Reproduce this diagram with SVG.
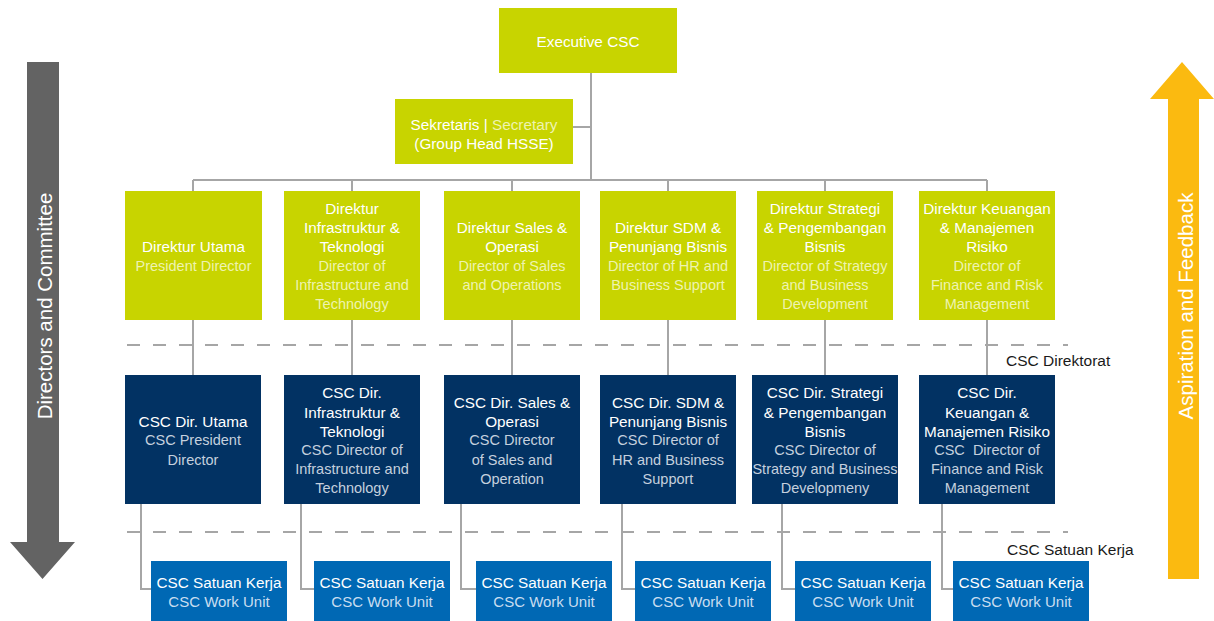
<svg xmlns="http://www.w3.org/2000/svg" width="1214" height="621" viewBox="0 0 1214 621">
<style>
text{font-family:"Liberation Sans",Arial,sans-serif;font-size:14.5px;text-anchor:middle;dominant-baseline:central}
.g{fill:#C8D400}.d{fill:#023263}.b{fill:#0068B4}
.w{fill:#ffffff;font-size:15.3px}.lg{fill:#EEF3B0}.ld{fill:#C5D0DE}.lb{fill:#C9DDF0;font-size:15px}
.ln{stroke:#A6A6A6;stroke-width:2;fill:none}
.ds{stroke:#A6A6A6;stroke-width:2;fill:none;stroke-dasharray:13 13}
.lab{fill:#1a1a1a;text-anchor:start;font-size:15.5px}
.arr{font-size:20.5px;fill:#ffffff}
</style>
<g id="left-arrow">
<path d="M27 62 H59 V542 H75 L42.5 579 L10 542 H27 Z" fill="#636363"/>
<text class="arr" transform="translate(44 306) rotate(-90)">Directors and Committee</text>
</g>
<g id="right-arrow">
<path d="M1168 579 V99 H1150 L1182 62 L1214 99 H1199 V579 Z" fill="#FBBA10"/>
<text class="arr" transform="translate(1185 306) rotate(-90)">Aspiration and Feedback</text>
</g>
<g id="connectors">
<path class="ln" d="M591 73 V180 M573 127 H591 M193 180 H987 M193 180 V191 M352 180 V191 M512 180 V191 M668 180 V191 M825 180 V191 M987 180 V191"/>
<path class="ln" d="M193 320 V375 M352 320 V375 M512 320 V375 M668 320 V375 M825 320 V375 M987 320 V375"/>
<path class="ln" d="M141 504 V589 H151 M301 504 V589 H314 M461 504 V589 H476 M622 504 V589 H635 M782 504 V589 H795 M942 504 V589 H953"/>
<path class="ds" d="M127 345 H1068 M127 532 H1068"/>
</g>
<g id="level-labels">
<text class="lab" x="1006" y="360">CSC Direktorat</text>
<text class="lab" x="1007" y="549">CSC Satuan Kerja</text>
</g>
<g id="executive">
<rect class="g" x="499" y="8" width="178" height="65"/>
<text class="w" x="588" y="41">Executive CSC</text>
</g>
<g id="secretary">
<rect class="g" x="395" y="99" width="178" height="65"/>
<text x="484" y="124" style="font-size:15.3px"><tspan fill="#ffffff">Sekretaris | </tspan><tspan fill="#EEF3B0">Secretary</tspan></text>
<text class="w" x="484" y="143">(Group Head HSSE)</text>
</g>
<g id="dir-utama">
<rect class="g" x="125" y="191" width="137" height="129"/>
<text class="w" x="193.5" y="246">Direktur Utama</text>
<text class="lg" x="193.5" y="266">President Director</text>
</g>
<g id="dir-infra">
<rect class="g" x="284" y="191" width="136" height="129"/>
<text class="w" x="352" y="208">Direktur</text>
<text class="w" x="352" y="227">Infrastruktur &amp;</text>
<text class="w" x="352" y="246">Teknologi</text>
<text class="lg" x="352" y="266">Director of</text>
<text class="lg" x="352" y="285">Infrastructure and</text>
<text class="lg" x="352" y="304">Technology</text>
</g>
<g id="dir-sales">
<rect class="g" x="444" y="191" width="136" height="129"/>
<text class="w" x="512" y="227">Direktur Sales &amp;</text>
<text class="w" x="512" y="246">Operasi</text>
<text class="lg" x="512" y="266">Director of Sales</text>
<text class="lg" x="512" y="285">and Operations</text>
</g>
<g id="dir-sdm">
<rect class="g" x="600" y="191" width="136" height="129"/>
<text class="w" x="668" y="227">Direktur SDM &amp;</text>
<text class="w" x="668" y="246">Penunjang Bisnis</text>
<text class="lg" x="668" y="266">Director of HR and</text>
<text class="lg" x="668" y="285">Business Support</text>
</g>
<g id="dir-strategi">
<rect class="g" x="757" y="191" width="136" height="129"/>
<text class="w" x="825" y="208">Direktur Strategi</text>
<text class="w" x="825" y="227">&amp; Pengembangan</text>
<text class="w" x="825" y="246">Bisnis</text>
<text class="lg" x="825" y="266">Director of Strategy</text>
<text class="lg" x="825" y="285">and Business</text>
<text class="lg" x="825" y="304">Development</text>
</g>
<g id="dir-keuangan">
<rect class="g" x="919" y="191" width="136" height="129"/>
<text class="w" x="987" y="208">Direktur Keuangan</text>
<text class="w" x="987" y="227">&amp; Manajemen</text>
<text class="w" x="987" y="246">Risiko</text>
<text class="lg" x="987" y="266">Director of</text>
<text class="lg" x="987" y="285">Finance and Risk</text>
<text class="lg" x="987" y="304">Management</text>
</g>
<g id="csc-utama">
<rect class="d" x="125" y="375" width="136" height="129"/>
<text class="w" x="193" y="421">CSC Dir. Utama</text>
<text class="ld" x="193" y="440">CSC President</text>
<text class="ld" x="193" y="460">Director</text>
</g>
<g id="csc-infra">
<rect class="d" x="284" y="375" width="136" height="129"/>
<text class="w" x="352" y="392">CSC Dir.</text>
<text class="w" x="352" y="412">Infrastruktur &amp;</text>
<text class="w" x="352" y="431">Teknologi</text>
<text class="ld" x="352" y="450">CSC Director of</text>
<text class="ld" x="352" y="469">Infrastructure and</text>
<text class="ld" x="352" y="488">Technology</text>
</g>
<g id="csc-sales">
<rect class="d" x="444" y="375" width="136" height="129"/>
<text class="w" x="512" y="402">CSC Dir. Sales &amp;</text>
<text class="w" x="512" y="421">Operasi</text>
<text class="ld" x="512" y="440">CSC Director</text>
<text class="ld" x="512" y="460">of Sales and</text>
<text class="ld" x="512" y="479">Operation</text>
</g>
<g id="csc-sdm">
<rect class="d" x="600" y="375" width="136" height="129"/>
<text class="w" x="668" y="402">CSC Dir. SDM &amp;</text>
<text class="w" x="668" y="421">Penunjang Bisnis</text>
<text class="ld" x="668" y="440">CSC Director of</text>
<text class="ld" x="668" y="460">HR and Business</text>
<text class="ld" x="668" y="479">Support</text>
</g>
<g id="csc-strategi">
<rect class="d" x="752" y="375" width="146" height="129"/>
<text class="w" x="825" y="392">CSC Dir. Strategi</text>
<text class="w" x="825" y="412">&amp; Pengembangan</text>
<text class="w" x="825" y="431">Bisnis</text>
<text class="ld" x="825" y="450">CSC Director of</text>
<text class="ld" x="825" y="469">Strategy and Business</text>
<text class="ld" x="825" y="488">Developmeny</text>
</g>
<g id="csc-keuangan">
<rect class="d" x="919" y="375" width="136" height="129"/>
<text class="w" x="987" y="392">CSC Dir.</text>
<text class="w" x="987" y="412">Keuangan &amp;</text>
<text class="w" x="987" y="431">Manajemen Risiko</text>
<text class="ld" x="987" y="450" xml:space="preserve">CSC  Director of</text>
<text class="ld" x="987" y="469">Finance and Risk</text>
<text class="ld" x="987" y="488">Management</text>
</g>
<g id="unit-1"><rect class="b" x="151" y="561" width="136" height="60"/><text class="w" x="219" y="582">CSC Satuan Kerja</text><text class="lb" x="219" y="601">CSC Work Unit</text></g>
<g id="unit-2"><rect class="b" x="314" y="561" width="136" height="60"/><text class="w" x="382" y="582">CSC Satuan Kerja</text><text class="lb" x="382" y="601">CSC Work Unit</text></g>
<g id="unit-3"><rect class="b" x="476" y="561" width="136" height="60"/><text class="w" x="544" y="582">CSC Satuan Kerja</text><text class="lb" x="544" y="601">CSC Work Unit</text></g>
<g id="unit-4"><rect class="b" x="635" y="561" width="136" height="60"/><text class="w" x="703" y="582">CSC Satuan Kerja</text><text class="lb" x="703" y="601">CSC Work Unit</text></g>
<g id="unit-5"><rect class="b" x="795" y="561" width="136" height="60"/><text class="w" x="863" y="582">CSC Satuan Kerja</text><text class="lb" x="863" y="601">CSC Work Unit</text></g>
<g id="unit-6"><rect class="b" x="953" y="561" width="136" height="60"/><text class="w" x="1021" y="582">CSC Satuan Kerja</text><text class="lb" x="1021" y="601">CSC Work Unit</text></g>
</svg>
